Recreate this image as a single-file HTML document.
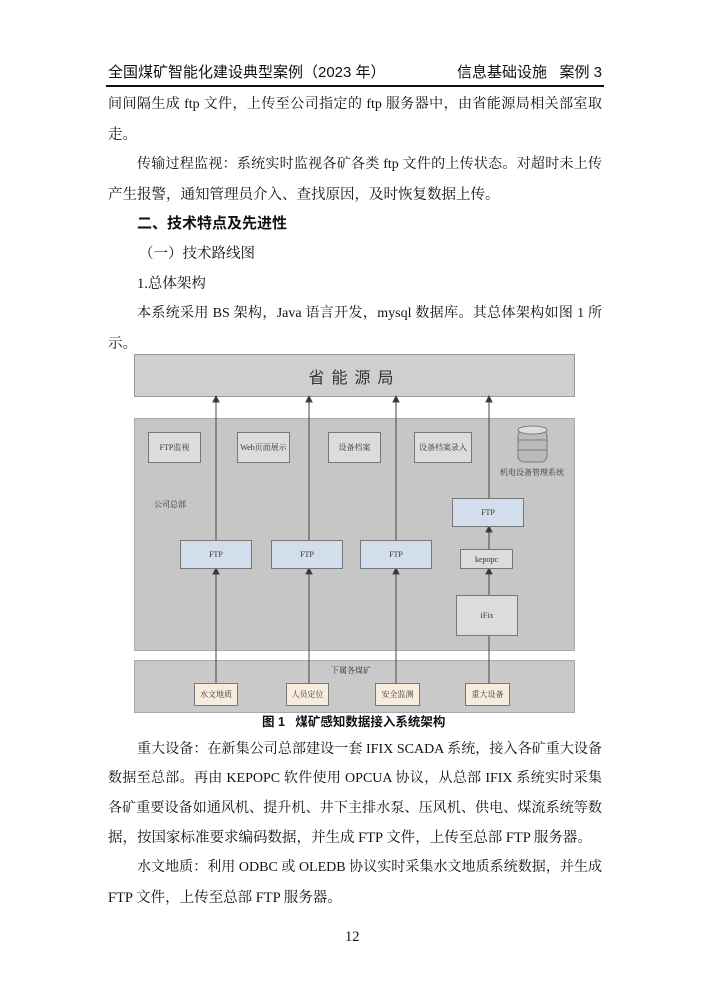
<!DOCTYPE html>
<html><head><meta charset="utf-8"><style>
body{margin:0;width:710px;height:1004px;background:#fff;position:relative;overflow:hidden;font-family:"Liberation Serif","Noto Serif CJK SC",serif;color:#111}
.l{position:absolute;left:108px;width:494px;font-size:14.5px;line-height:20px;white-space:nowrap}
.j{text-align:justify;text-align-last:justify;font-size:14px}
.i{left:137px;width:465px}
.h{font-family:"Liberation Sans","Noto Sans CJK SC",sans-serif}
.b{position:absolute;box-sizing:border-box;border:1px solid #777;display:flex;align-items:center;justify-content:center;font-size:8px;color:#333;font-family:"Liberation Serif","Noto Serif CJK SC",serif}
.g{background:#dcdcdc}.f{background:#d3deec}.c{background:#f8ecdf}
.t{position:absolute;font-size:8px;color:#333}
</style></head><body>
<div class="l h" style="top:63px;left:108px;font-size:15px">全国煤矿智能化建设典型案例（2023 年）</div>
<div class="l h" style="top:63px;left:440px;width:162px;text-align:right;font-size:15px">信息基础设施&nbsp;&nbsp;&nbsp;案例 3</div>
<div style="position:absolute;left:106px;top:85px;width:498px;height:1.5px;background:#111"></div>
<div class="l j" style="top:95px">间间隔生成 ftp 文件，上传至公司指定的 ftp 服务器中，由省能源局相关部室取</div>
<div class="l" style="top:125px">走。</div>
<div class="l j i" style="top:155px">传输过程监视：系统实时监视各矿各类 ftp 文件的上传状态。对超时未上传</div>
<div class="l" style="top:185px">产生报警，通知管理员介入、查找原因，及时恢复数据上传。</div>
<div class="l i h" style="top:214px;font-weight:bold;font-size:15px">二、技术特点及先进性</div>
<div class="l" style="top:244px;left:139px">（一）技术路线图</div>
<div class="l i" style="top:274px">1.总体架构</div>
<div class="l j i" style="top:304px">本系统采用 BS 架构，Java 语言开发，mysql 数据库。其总体架构如图 1 所</div>
<div class="l" style="top:334px">示。</div>

<div style="position:absolute;left:134px;top:354px;width:441px;height:43px;background:#cfcfcf;border:1px solid #999;box-sizing:border-box;display:flex;align-items:center;justify-content:center;font-family:'Liberation Sans','Noto Sans CJK SC',sans-serif;font-size:16px;letter-spacing:7px;color:#333">省能源局</div>
<div style="position:absolute;left:134px;top:418px;width:441px;height:233px;background:#c6c6c6;border:1px solid #aaa;box-sizing:border-box"></div>
<div style="position:absolute;left:134px;top:660px;width:441px;height:53px;background:#c9c9c9;border:1px solid #aaa;box-sizing:border-box"></div>
<svg style="position:absolute;left:0;top:0" width="710" height="1004">
<g stroke="#444" stroke-width="1" fill="#333">
<line x1="216" y1="683" x2="216" y2="574"/><path d="M213,574 L219,574 L216,568Z"/>
<line x1="216" y1="540" x2="216" y2="402"/><path d="M213,402 L219,402 L216,396Z"/>
<line x1="309" y1="683" x2="309" y2="574"/><path d="M306,574 L312,574 L309,568Z"/>
<line x1="309" y1="540" x2="309" y2="402"/><path d="M306,402 L312,402 L309,396Z"/>
<line x1="396" y1="683" x2="396" y2="574"/><path d="M393,574 L399,574 L396,568Z"/>
<line x1="396" y1="540" x2="396" y2="402"/><path d="M393,402 L399,402 L396,396Z"/>
<line x1="489" y1="683" x2="489" y2="636"/>
<line x1="489" y1="595" x2="489" y2="574"/><path d="M486,574 L492,574 L489,568Z"/>
<line x1="489" y1="549" x2="489" y2="532"/><path d="M486,532 L492,532 L489,526Z"/>
<line x1="489" y1="498" x2="489" y2="402"/><path d="M486,402 L492,402 L489,396Z"/>
</g>
<g stroke="#666" stroke-width="0.8" fill="#9a9a9a">
<rect x="518" y="430" width="29" height="32" rx="6" fill="#bbb"/>
<ellipse cx="532.5" cy="430" rx="14.5" ry="4" fill="#ddd"/>
<line x1="518" y1="440" x2="547" y2="440"/><line x1="518" y1="450" x2="547" y2="450"/>
</g>
</svg>
<div class="b g" style="left:148px;top:432px;width:53px;height:31px">FTP监视</div>
<div class="b g" style="left:237px;top:432px;width:53px;height:31px">Web页面展示</div>
<div class="b g" style="left:328px;top:432px;width:53px;height:31px">设备档案</div>
<div class="b g" style="left:414px;top:432px;width:58px;height:31px">设备档案录入</div>
<div class="t" style="left:500px;top:467px">机电设备管理系统</div>
<div class="t" style="left:154px;top:499px">公司总部</div>
<div class="b f" style="left:180px;top:540px;width:72px;height:29px">FTP</div>
<div class="b f" style="left:271px;top:540px;width:72px;height:29px">FTP</div>
<div class="b f" style="left:360px;top:540px;width:72px;height:29px">FTP</div>
<div class="b f" style="left:452px;top:498px;width:72px;height:29px">FTP</div>
<div class="b g" style="left:460px;top:549px;width:53px;height:20px">kepopc</div>
<div class="b g" style="left:456px;top:595px;width:62px;height:41px">iFix</div>
<div class="t" style="left:331px;top:665px">下属各煤矿</div>
<div class="b c" style="left:194px;top:683px;width:44px;height:23px">水文地质</div>
<div class="b c" style="left:286px;top:683px;width:43px;height:23px">人员定位</div>
<div class="b c" style="left:375px;top:683px;width:45px;height:23px">安全监测</div>
<div class="b c" style="left:465px;top:683px;width:45px;height:23px">重大设备</div>
<div class="l h" style="top:712px;left:262px;width:200px;font-size:12.5px;font-weight:bold">图 1&nbsp;&nbsp;&nbsp;煤矿感知数据接入系统架构</div>

<div class="l j i" style="top:740px">重大设备：在新集公司总部建设一套 IFIX SCADA 系统，接入各矿重大设备</div>
<div class="l j" style="top:769px">数据至总部。再由 KEPOPC 软件使用 OPCUA 协议，从总部 IFIX 系统实时采集</div>
<div class="l j" style="top:799px">各矿重要设备如通风机、提升机、井下主排水泵、压风机、供电、煤流系统等数</div>
<div class="l" style="top:828px">据，按国家标准要求编码数据，并生成 FTP 文件，上传至总部 FTP 服务器。</div>
<div class="l j i" style="top:858px">水文地质：利用 ODBC 或 OLEDB 协议实时采集水文地质系统数据，并生成</div>
<div class="l" style="top:888px">FTP 文件，上传至总部 FTP 服务器。</div>
<div class="l" style="top:927px;left:345px;width:20px">12</div>
</body></html>
